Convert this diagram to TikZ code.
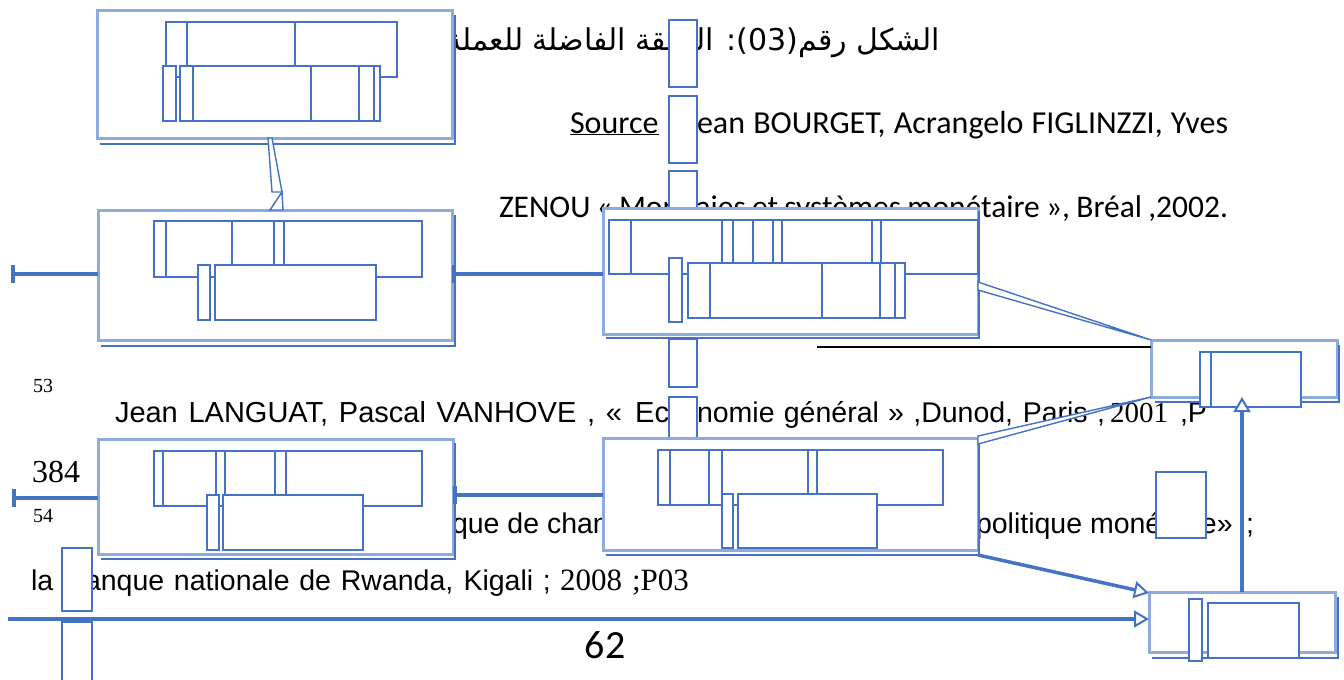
\documentclass[tikz,border=0pt]{standalone}
\usepackage{fontspec}
\usetikzlibrary{arrows.meta}
\setmainfont{Liberation Sans}
\newfontfamily\carl{Carlito}
\newfontfamily\serifnum{Liberation Serif}
\newfontfamily\arabicfont[Script=Arabic]{DejaVu Sans}
\TeXXeTstate=1
\definecolor{frameblue}{HTML}{8FAADC}
\definecolor{inkblue}{HTML}{4472C4}
\tikzset{
 bigbox/.style={draw=frameblue, line width=3pt, fill=white, inner sep=0pt, outer sep=0pt},
 inner/.style={draw=inkblue, line width=1.6pt, fill=white},
 divider/.style={draw=inkblue, line width=1.6pt},
 shadowline/.style={draw=inkblue, line width=2pt},
 thickconn/.style={draw=inkblue, line width=3.5pt},
 thinconn/.style={draw=inkblue, line width=1.4pt, fill=white, line join=miter},
 colbox/.style={draw=inkblue, line width=1.6pt, fill=white},
 txt/.style={inner sep=0pt, outer sep=0pt, text=black},
 opentip/.style={-{Triangle[fill=white, length=15pt, width=17pt, line width=2pt]}},
 bartip/.style={{Bar[width=18pt]}-},
}
\begin{document}
\begin{tikzpicture}[x=1pt,y=-1pt]
\useasboundingbox (0,0) rectangle (1344,680);
% ---------- texts ----------
\node[txt,anchor=base east] (title) at (940,50) {\fontsize{30}{34}\selectfont\arabicfont\beginR الشكل رقم\beginL(03)\endL: الحلقة الفاضلة للعملة\endR};
\node[txt,anchor=base west] (src1) at (570,133) {\carl\fontsize{32}{36}\selectfont\makebox[658pt][s]{\underline{Source} : Jean BOURGET, Acrangelo FIGLINZZI, Yves}};
\node[txt,anchor=base west] (src2) at (499,217) {\carl\fontsize{31.5}{36}\selectfont\makebox[729pt][s]{ZENOU « Monnaies et systèmes monétaire », Bréal ,2002.}};
\node[txt,anchor=base west] (fn53) at (33,392) {\serifnum\fontsize{20}{22}\selectfont 53};
\node[txt,anchor=base west] (l53a) at (115,422) {\fontsize{29}{32}\selectfont\makebox[507pt][s]{Jean LANGUAT, Pascal VANHOVE , «}};
\node[txt,anchor=base east] (l53b) at (669,422) {\fontsize{29}{32}\selectfont Ec};
\node[txt,anchor=base] (l53c) at (683,422) {\fontsize{29}{32}\selectfont o};
\node[txt,anchor=base west] (l53d) at (697,422) {\fontsize{28.5}{32}\selectfont\makebox[408pt][s]{nomie général » ,Dunod, Paris ,}};
\node[txt,anchor=base west] (l53e) at (1110,422) {\serifnum\fontsize{29}{32}\selectfont 2001};
\node[txt,anchor=base west] (l53f) at (1180,422) {\fontsize{28.5}{32}\selectfont ,P};
\node[txt,anchor=base west] (p384) at (32,482) {\serifnum\fontsize{32}{36}\selectfont 384};
\node[txt,anchor=base west] (fn54) at (33,522) {\serifnum\fontsize{20}{22}\selectfont 54};
\node[txt,anchor=base west] (l54a) at (452,533) {\fontsize{28.5}{32}\selectfont que de change};
\node[txt,anchor=base west] (l54b) at (976,533) {\fontsize{28.5}{32}\selectfont politique monétaire»};
\node[txt,anchor=base west] (l54c) at (1246,533) {\fontsize{28.5}{32}\selectfont ;};
\node[txt,anchor=base west] (l55a) at (31,590) {\fontsize{28.5}{32}\selectfont la};
\node[txt,anchor=base west] (l55b) at (66,590) {\fontsize{28.5}{32}\selectfont\makebox[485pt][s]{Banque nationale de Rwanda, Kigali ;}};
\node[txt,anchor=base west] (l55c) at (560,590) {\serifnum\fontsize{31}{34}\selectfont 2008};
\node[txt,anchor=base west] (l55d) at (632,590) {\serifnum\fontsize{31}{34}\selectfont ;P03};
\node[txt,anchor=base] (pg) at (605,658) {\carl\fontsize{40}{44}\selectfont 62};
% ---------- small column boxes ----------
\draw[colbox] (669,20) rectangle (697,87);
\draw[colbox] (669,96) rectangle (697,163);
\draw[colbox] (669,171) rectangle (697,212);
\draw[colbox] (669,339) rectangle (697,387);
\draw[colbox] (669,397) rectangle (697,438);
\draw[colbox] (62,548) rectangle (92,611);
\draw[colbox] (62,622) rectangle (92,684);
\draw[colbox] (1156,472) rectangle (1206,538);
% ---------- big boxes ----------
\node[bigbox, minimum width=355pt, minimum height=128pt] (B1) at (274.5,74) {};
\node[bigbox, minimum width=354pt, minimum height=130pt] (B2) at (275,275) {};
\node[bigbox, minimum width=375pt, minimum height=126pt] (B3) at (790.5,271) {};
\node[bigbox, minimum width=355pt, minimum height=115pt] (L2) at (275.5,496.5) {};
\node[bigbox, minimum width=375pt, minimum height=112pt] (B4) at (790.5,494) {};
\node[bigbox, minimum width=186pt, minimum height=57pt] (R1) at (1244,368.5) {};
\node[bigbox, minimum width=186pt, minimum height=60pt] (R2) at (1242,622) {};
% shadows
\draw[shadowline] ([shift={(3,6)}]B1.south west) -- ([shift={(3,6)}]B1.south east) -- ([shift={(3,5)}]B1.north east);
\draw[shadowline] ([shift={(3,6)}]B2.south west) -- ([shift={(3,6)}]B2.south east) -- ([shift={(3,5)}]B2.north east);
\draw[shadowline] ([shift={(3,4)}]B3.south west) -- ([shift={(1,4)}]B3.south east) -- ([shift={(1,3)}]B3.north east);
\draw[shadowline] ([shift={(3,5)}]L2.south west) -- ([shift={(2,5)}]L2.south east) -- ([shift={(2,4)}]L2.north east);
\draw[shadowline] ([shift={(3,5)}]B4.south west) -- ([shift={(1,5)}]B4.south east) -- ([shift={(1,3)}]B4.north east);
\draw[shadowline] ([shift={(4,5)}]R1.south west) -- ([shift={(2,5)}]R1.south east) -- ([shift={(2,5)}]R1.north east);
\draw[shadowline] ([shift={(3,6)}]R2.south west) -- ([shift={(3,6)}]R2.south east) -- ([shift={(3,5)}]R2.north east);
% ---------- inner rectangles ----------
% B1
\draw[inner] (166,22) rectangle (397,77);
\draw[divider] (187,22) -- (187,66) (295,22) -- (295,66);
\draw[inner] (163,66) rectangle (176,121);
\draw[inner] (180,66) rectangle (380,121);
\draw[divider] (193,66) -- (193,121) (311,66) -- (311,121) (359,66) -- (359,121) (374,66) -- (374,121);
% B2
\draw[inner] (154,221) rectangle (422,277);
\draw[divider] (166,221) -- (166,277) (232,221) -- (232,265) (274,221) -- (274,265) (284,221) -- (284,265);
\draw[inner] (198,265) rectangle (210,320);
\draw[inner] (215,265) rectangle (376,320);
% B3
\draw[inner] (609,220) rectangle (978,274);
\draw[divider] (631,220) -- (631,274);
\foreach \xx in {722,733,753,773,782,872,881} \draw[divider] (\xx,220) -- (\xx,263);
\draw[inner] (669,258) rectangle (682,322);
\draw[inner] (688,263) rectangle (905,318);
\draw[divider] (710,263) -- (710,318) (822,263) -- (822,318) (880,263) -- (880,318) (895,263) -- (895,318);
% L2
\draw[inner] (154,451) rectangle (422,506);
\draw[divider] (163,451) -- (163,506);
\foreach \xx in {216,225,275,286} \draw[divider] (\xx,451) -- (\xx,495);
\draw[inner] (207,495) rectangle (219,550);
\draw[inner] (223,495) rectangle (363,550);
% B4
\draw[inner] (658,450) rectangle (943,505);
\draw[divider] (670,450) -- (670,505) (709,450) -- (709,505);
\foreach \xx in {722,808,817} \draw[divider] (\xx,450) -- (\xx,494);
\draw[inner] (722,494) rectangle (733,548);
\draw[inner] (738,494) rectangle (877,548);
% R1
\draw[inner] (1200,352) rectangle (1301,407);
\draw[divider] (1211,352) -- (1211,407);
% R2
\draw[inner] (1189,599) rectangle (1202,661);
\draw[inner] (1208,603) rectangle (1299,658);
% ---------- connectors ----------
\coordinate (w1) at (282,192);
\coordinate (w2) at (272,192);
\draw[thinconn] ([xshift=-6.5pt]B1.south) -- ([xshift=-2.5pt]B1.south) -- (w1) -- (w2) -- cycle;
\draw[thinconn] (w1) -- ([xshift=-5pt]B2.north) -- ([xshift=8pt]B2.north) -- cycle;
\coordinate (a2) at (11,274);
\draw[thickconn, bartip] (a2) -- (a2 -| B2.west);
\draw[thickconn, bartip] (B2.east |- a2) -- (a2 -| B3.west);
\coordinate (a5) at (12,498);
\draw[thickconn, bartip] (a5) -- (a5 -| L2.west);
\coordinate (a6) at (453,495);
\draw[thickconn, bartip] (L2.east |- a6) -- (a6 -| B4.west);
\draw[thinconn] ([yshift=-11pt]B3.east) -- (R1.north west) -- ([yshift=-19pt]B3.east) -- cycle;
\draw[thinconn] ([yshift=2pt]B4.north east) -- (R1.south west) -- ([yshift=-6pt]B4.north east) -- cycle;
\coordinate (fl) at (817,347);
\draw[black, line width=2.5pt] (fl) -- (fl -| R1.west);
\draw[thickconn, opentip] ([yshift=-5pt]B4.south east) -- ([yshift=-1pt]R2.north west);
\coordinate (bl) at (8,619);
\draw[thickconn, opentip] (bl) -- (bl -| R2.west);
\draw[thickconn, opentip] (R2.north) -- (R2.north |- R1.south);
\end{tikzpicture}
\end{document}
